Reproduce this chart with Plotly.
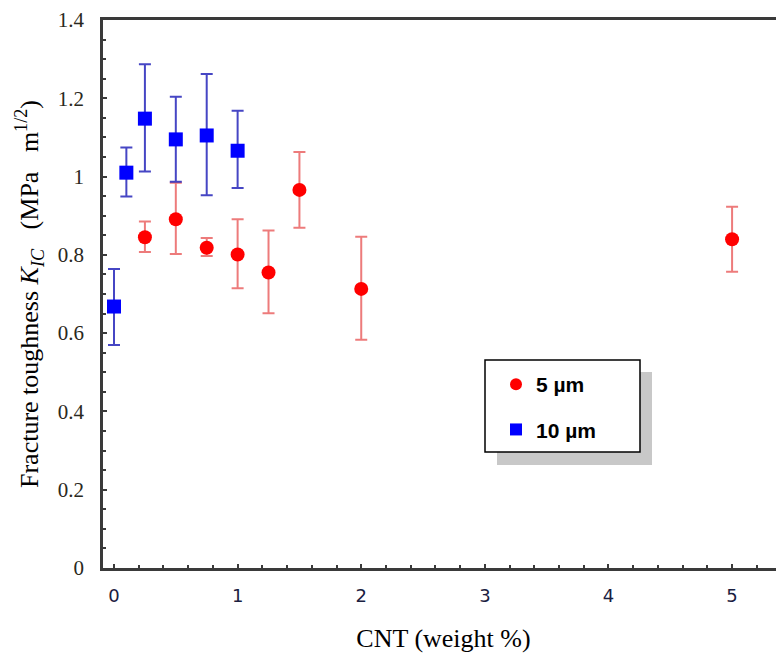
import plotly.graph_objects as go

# 5 um particles
cnt_5 = [0.25, 0.5, 0.75, 1.0, 1.25, 1.5, 2.0, 5.0]
kic_5 = [0.845, 0.891, 0.818, 0.801, 0.755, 0.966, 0.713, 0.840]
err_5_up = [0.040, 0.093, 0.025, 0.090, 0.107, 0.097, 0.133, 0.083]
err_5_down = [0.038, 0.089, 0.021, 0.086, 0.104, 0.097, 0.130, 0.083]

# 10 um particles
cnt_10 = [0.0, 0.1, 0.25, 0.5, 0.75, 1.0]
kic_10 = [0.668, 1.010, 1.148, 1.095, 1.105, 1.066]
err_10_up = [0.096, 0.064, 0.139, 0.109, 0.157, 0.102]
err_10_down = [0.098, 0.061, 0.135, 0.108, 0.153, 0.095]

# page body has an 8px margin, so the figure is drawn 8px right/down
OFF = 8
W, H = 784, 657
L, T = 103 - OFF, 20 - OFF
R = W - (784 - OFF)
B = H - (568 - OFF)


def px(x):
    return (x - OFF - L) / (W - L - R)


def py(y):
    return (H - B - (y - OFF)) / (H - B - T)


fig = go.Figure()
fig.add_trace(go.Scatter(
    x=cnt_5, y=kic_5, mode="markers", name="5 µm", legendgroup="a",
    marker=dict(symbol="circle", size=14, color="#ff0000"),
    error_y=dict(type="data", symmetric=False, array=err_5_up,
                 arrayminus=err_5_down, color="rgba(232,90,90,0.8)",
                 thickness=2, width=6),
))
fig.add_trace(go.Scatter(
    x=cnt_10, y=kic_10, mode="markers", name="10 µm", legendgroup="b",
    marker=dict(symbol="square", size=14, color="#0000ff"),
    error_y=dict(type="data", symmetric=False, array=err_10_up,
                 arrayminus=err_10_down, color="rgba(50,50,190,0.9)",
                 thickness=2, width=6),
))

# legend box with drop shadow
fig.add_shape(type="rect", xref="paper", yref="paper",
              x0=px(497), x1=px(652), y0=py(372), y1=py(465),
              fillcolor="#c8c8c8", line=dict(width=0), layer="above")
fig.add_shape(type="rect", xref="paper", yref="paper",
              x0=px(485), x1=px(640), y0=py(360), y1=py(452),
              fillcolor="white", line=dict(color="black", width=1.5),
              layer="above")

axis_common = dict(
    showline=True, linecolor="#3a3a3a", linewidth=2.5,
    ticks="inside", ticklen=4, tickcolor="#3a3a3a", tickwidth=1.5,
    showgrid=False, zeroline=False, automargin=False,
)

fig.update_layout(
    width=W, height=H,
    margin=dict(l=L, r=R, t=T, b=B),
    plot_bgcolor="white", paper_bgcolor="white",
    xaxis=dict(
        range=[-0.089, 5.42], tickvals=[0, 1, 2, 3, 4, 5],
        minor=dict(dtick=0.2, ticks="inside", ticklen=3, tickcolor="#3a3a3a"),
        mirror=True,
        tickfont=dict(family="DejaVu Sans", size=18, color="#1a2040"),
        ticklabelstandoff=10,
        title=dict(text="CNT (weight %)", standoff=24,
                   font=dict(family="Liberation Serif", size=26, color="black")),
        **axis_common,
    ),
    yaxis=dict(
        range=[0, 1.4], tickvals=[0, 0.2, 0.4, 0.6, 0.8, 1, 1.2, 1.4],
        ticktext=["0", "0.2", "0.4", "0.6", "0.8", "1", "1.2", "1.4"],
        minor=dict(dtick=0.05, ticks="inside", ticklen=3, tickcolor="#3a3a3a"),
        tickfont=dict(family="Liberation Serif", size=21, color="#2a2820"),
        ticklabelstandoff=12,
        title=dict(text="Fracture toughness <i>K</i><sub><i>IC</i></sub>&nbsp;&nbsp; (MPa&nbsp;&nbsp; m<sup>1/2</sup>)",
                   standoff=12,
                   font=dict(family="Liberation Serif", size=26, color="black")),
        **axis_common,
    ),
    showlegend=True,
    legend=dict(
        x=px(496), y=py(364), xanchor="left", yanchor="top",
        bgcolor="rgba(0,0,0,0)", borderwidth=0,
        tracegroupgap=15, itemsizing="constant",
        font=dict(family="Liberation Sans", size=21, color="black", weight="bold"),
    ),
)

fig.write_html("out.html")
